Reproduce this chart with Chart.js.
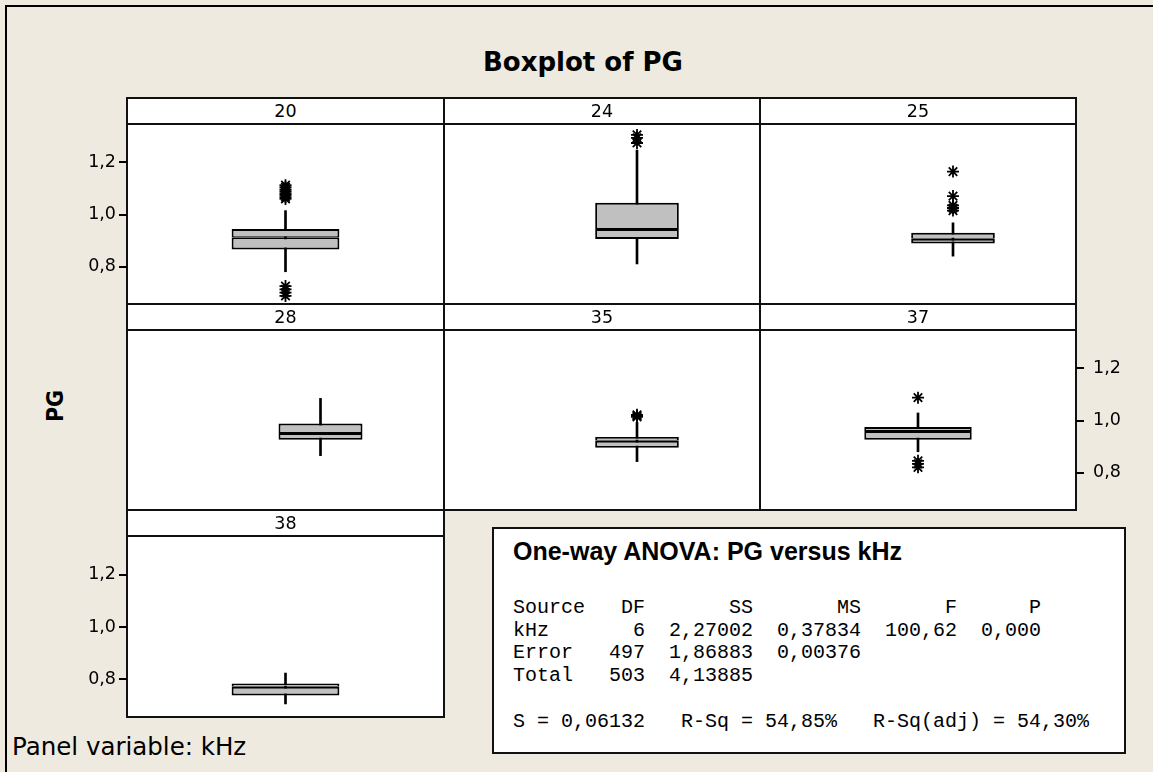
<!DOCTYPE html>
<html>
<head>
<meta charset="utf-8">
<script src="https://cdn.jsdelivr.net/npm/chart.js@4.4.1/dist/chart.umd.min.js"></script>
<style>
  body { margin: 0; width: 1153px; height: 772px; overflow: hidden; position: relative;
         background: #eeeae0; font-family: "DejaVu Sans", sans-serif; color: #000; }
  .frame { position: absolute; left: 5px; top: 5px; width: 1300px; height: 900px;
           border-left: 2px solid #000; border-top: 2px solid #000; }
  .panel { position: absolute; box-sizing: border-box; background: #fff; border: 2px solid #111; }
  .strip { position: absolute; left: 0; right: 0; top: 0; height: 24px; border-bottom: 2px solid #111;
           text-align: center; font-size: 17.5px; line-height: 25px; }
  canvas { position: absolute; }
  .txt { position: absolute; white-space: pre; }
  #title { font-size: 26px; font-weight: bold; }
  #ylab { font-size: 23px; font-weight: bold; font-family: "DejaVu Sans Condensed", "DejaVu Sans", sans-serif;
          left: 55px; top: 406px; transform: translate(-50%, -50%) rotate(-90deg); }
  #panelvar { font-size: 24.5px; }
  #anova { position: absolute; left: 492px; top: 527px; width: 634px; height: 227px; box-sizing: border-box;
           background: #fff; border: 2px solid #111; }
  #anovaTitle { font-family: "Liberation Sans", Arial, sans-serif; font-weight: bold; font-size: 25px; }
  #anovaBody { font-family: "Liberation Mono", "Courier New", monospace; font-size: 20px; line-height: 22.7px; margin: 0; }
</style>
</head>
<body>
<div class="frame"></div>
<div id="title" class="txt">Boxplot of PG</div>
<div id="ylab" class="txt">PG</div>
<div id="panelvar" class="txt">Panel variable: kHz</div>
<div id="anova"></div>
<div id="anovaTitle" class="txt">One-way ANOVA: PG versus kHz</div>
<pre id="anovaBody" class="txt">Source   DF       SS       MS       F      P
kHz       6  2,27002  0,37834  100,62  0,000
Error   497  1,86883  0,00376
Total   503  4,13885

S = 0,06132   R-Sq = 54,85%   R-Sq(adj) = 54,30%</pre>
<script>
// kHz panels
const categories  = ['20', '24', '25', '28', '35', '37', '38'];
const whiskerLow  = [0.780, 0.810, 0.840, 0.865, 0.842, 0.880, 0.706];
const q1          = [0.866, 0.906, 0.889, 0.926, 0.895, 0.926, 0.738];
const median      = [0.913, 0.944, 0.907, 0.952, 0.922, 0.960, 0.772];
const q3          = [0.944, 1.045, 0.930, 0.989, 0.937, 0.975, 0.784];
const whiskerHigh = [1.015, 1.248, 0.968, 1.085, 0.993, 1.029, 0.824];
const outliers = [
  [1.113, 1.105, 1.097, 1.090, 1.082, 1.075, 1.067, 1.060, 0.725, 0.712, 0.700, 0.687],
  [1.306, 1.295, 1.275],
  [1.165, 1.071, 1.035, 1.025, 1.015],
  [],
  [1.022, 1.018, 1.014],
  [1.088, 0.845, 0.833, 0.820],
  []
];
const yTicks = [0.8, 1.0, 1.2];
const yMin = 0.656, yMax = 1.348;

// panel grid
const colX = [126, 443, 759, 1075];
const rowY = [97, 303, 509, 716];
const panelCol = [0, 1, 2, 0, 1, 2, 0];
const panelRow = [0, 0, 0, 1, 1, 1, 2];
const axisSide = ['left', null, null, null, null, 'right', 'left'];
const MARGIN = 70;
const FONT = '"DejaVu Sans", sans-serif';

// put a text element so its baseline sits on y
function placeText(id, x, baseline) {
  const el = document.getElementById(id);
  el.style.left = x + 'px';
  el.style.top = '0px';
  const mark = document.createElement('span');
  mark.style.cssText = 'display:inline-block;width:0;height:0;vertical-align:baseline';
  el.insertBefore(mark, el.firstChild);
  const off = mark.getBoundingClientRect().top - el.getBoundingClientRect().top;
  el.removeChild(mark);
  el.style.top = (baseline - off) + 'px';
}
placeText('title', 483, 71);
placeText('panelvar', 12, 755);
placeText('anovaTitle', 513, 560);
placeText('anovaBody', 513, 613);

function makePanel(i) {
  const c = panelCol[i], r = panelRow[i];
  const left = colX[c], top = rowY[r];
  const w = colX[c + 1] - colX[c], h = rowY[r + 1] - rowY[r];

  const panel = document.createElement('div');
  panel.className = 'panel';
  panel.style.cssText = `left:${left}px;top:${top}px;width:${w + 2}px;height:${h + 2}px`;
  const strip = document.createElement('div');
  strip.className = 'strip';
  strip.textContent = categories[i];
  panel.appendChild(strip);
  document.body.appendChild(panel);

  const canvas = document.createElement('canvas');
  canvas.width = w + 2 * MARGIN;
  canvas.height = h - 26;
  canvas.style.left = (left + 1 - MARGIN) + 'px';
  canvas.style.top = (top + 27) + 'px';
  document.body.appendChild(canvas);

  const side = axisSide[i];
  const boxStyle = {
    backgroundColor: '#c0c0c0', borderColor: '#000', borderSkipped: false,
    grouped: false, barPercentage: 0.34, categoryPercentage: 1
  };

  new Chart(canvas, {
    type: 'bar',
    data: {
      labels: [categories[i]],
      datasets: [
        Object.assign({ data: [[q1[i], median[i]]], borderWidth: { top: 2, bottom: 2, left: 2, right: 2 } }, boxStyle),
        Object.assign({ data: [[median[i], q3[i]]], borderWidth: { top: 2, bottom: 1, left: 2, right: 2 } }, boxStyle),
        { data: [[whiskerLow[i], whiskerHigh[i]]], backgroundColor: '#000', borderWidth: 0,
          barThickness: 2, grouped: false },
        { type: 'line', data: outliers[i].map(v => ({ x: categories[i], y: v })), showLine: false,
          pointStyle: 'star', pointRadius: 6, pointBorderWidth: 1.8, borderColor: '#000',
          backgroundColor: '#000', clip: false }
      ]
    },
    options: {
      responsive: false,
      animation: false,
      events: [],
      layout: {
        autoPadding: false,
        padding: { left: side === 'left' ? 0 : MARGIN, right: side === 'right' ? 0 : MARGIN, top: 0, bottom: 0 }
      },
      plugins: { legend: { display: false }, tooltip: { enabled: false } },
      scales: {
        x: { display: false },
        y: {
          display: side !== null,
          position: side || 'left',
          min: yMin,
          max: yMax,
          afterBuildTicks: s => { s.ticks = yTicks.map(v => ({ value: v })); },
          afterFit: s => { s.width = MARGIN; s.paddingTop = 0; s.paddingBottom = 0; },
          border: { display: false },
          grid: { drawOnChartArea: false, drawTicks: true, tickLength: 8, color: '#000', lineWidth: 2 },
          ticks: {
            color: '#000', padding: side === 'right' ? 9 : 3,
            font: { family: FONT, size: 17.5 },
            callback: v => v.toFixed(1).replace('.', ',')
          }
        }
      }
    }
  });
}

categories.forEach((_, i) => makePanel(i));
</script>
</body>
</html>
